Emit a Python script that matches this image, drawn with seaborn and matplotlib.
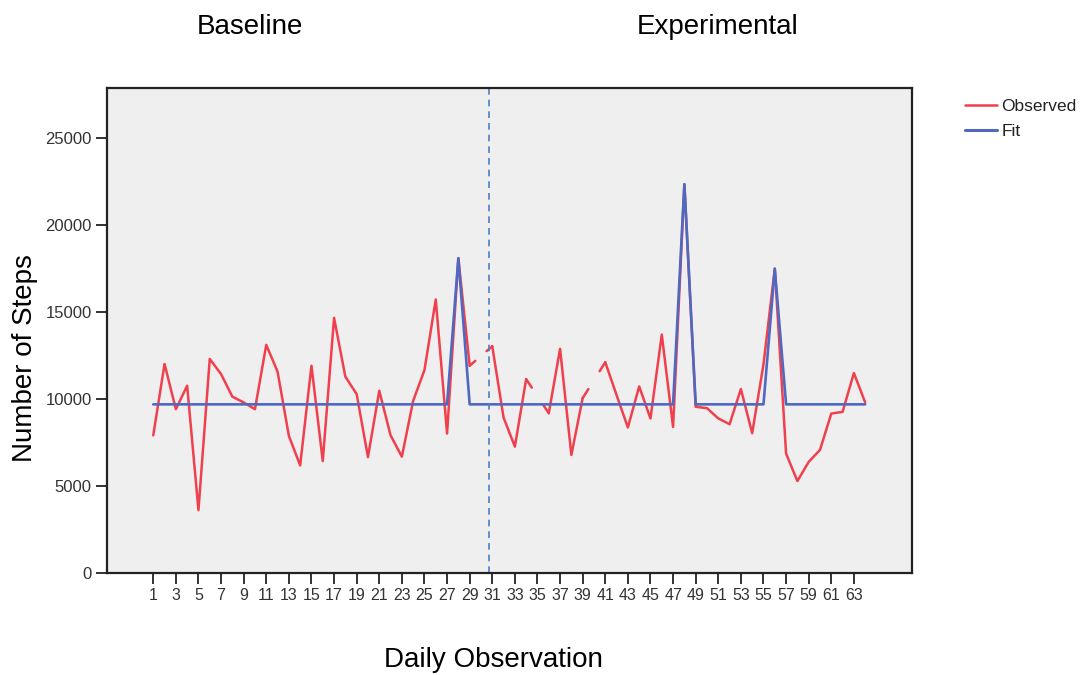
import numpy as np
import pandas as pd
import matplotlib
matplotlib.use("Agg")
import matplotlib.pyplot as plt
from matplotlib.lines import Line2D
import seaborn as sns

# Daily step counts (NaN = day not recorded)
days = list(range(1, 65))
observed = [
    7920, 12020, 9420, 10770, 3620, 12310, 11440, 10140, 9810, 9420,
    13120, 11580, 7890, 6190, 11920, 6440, 14670, 11290, 10290, 6670,
    10480, 7920, 6690, 9900, 11670, 15730, 8020, 18100, 11920, np.nan,
    13040, 8940, 7270, 11150, np.nan, 9190, 12890, 6790, 10060, np.nan,
    12120, 10230, 8370, 10730, 8890, 13710, 8400, 22350, 9560, 9480,
    8890, 8560, 10580, 8040, 12000, 17500, 6870, 5290, 6390, 7080,
    9170, 9270, 11500, 9810,
]
# Model fit: phase level plus the three outlying days
fit_level = 9700
fit_spikes = {28: 18100, 48: 22350, 56: 17500}
fit = [fit_spikes.get(d, fit_level) for d in days]

phase_change = 30.7
phase_labels = ["Baseline", "Experimental"]
xtick_labels = list(range(1, 64, 2))
ytick_values = [0, 5000, 10000, 15000, 20000, 25000]

RED = "#f0404e"
BLUE = "#5068bf"
DASH_BLUE = "#4a80c4"

sns.set_theme(style="white")
plt.rcParams["font.family"] = ["Liberation Sans", "DejaVu Sans"]

# Split the observed series into unbroken runs, plus short half-stubs
# leading into and out of each missing day.
obs = np.array(observed, dtype=float)
x = np.array(days, dtype=float)
rows = []
seg = 0
prev_nan = True
for xi, yi in zip(x, obs):
    if np.isnan(yi):
        prev_nan = True
        continue
    if prev_nan:
        seg += 1
        prev_nan = False
    rows.append((xi, yi, f"run{seg}"))
for i in np.where(np.isnan(obs))[0]:
    xl, xr = x[i - 1], x[i + 1]
    yl, yr = obs[i - 1], obs[i + 1]
    for k, (a, b) in enumerate([(xl, x[i] - 0.5), (x[i] + 0.5, xr)]):
        for xx in (a, b):
            rows.append((xx, np.interp(xx, [xl, xr], [yl, yr]), f"stub{i}_{k}"))
obs_df = pd.DataFrame(rows, columns=["day", "steps", "unit"])
fit_df = pd.DataFrame({"day": days, "steps": fit})

fig = plt.figure(figsize=(10.8, 6.75), dpi=100)
ax = fig.add_axes([0.099, 0.151, 0.745, 0.719])
ax.set_facecolor("#efefef")

sns.lineplot(data=obs_df, x="day", y="steps", units="unit", estimator=None,
             color=RED, linewidth=1.8, ax=ax, legend=False, sort=True)
sns.lineplot(data=fit_df, x="day", y="steps", color=BLUE, linewidth=1.9,
             ax=ax, legend=False)
ax.axvline(phase_change, color=DASH_BLUE, linewidth=1.2, linestyle=(0, (4, 3)))

ax.set_xlim(-3.1, 68.1)
ax.set_ylim(0, 27900)
ax.set_xticks(xtick_labels)
ax.set_xticklabels([str(v) for v in xtick_labels])
ax.set_yticks(ytick_values)
ax.set_yticklabels([str(v) for v in ytick_values])
ax.tick_params(axis="both", direction="out", length=8, width=1.3,
               color="#222222", labelsize=12, labelcolor="#333333",
               bottom=True, left=True, pad=3)
ax.tick_params(axis="x", labelsize=11.5)
for s in ax.spines.values():
    s.set_color("#222222")
    s.set_linewidth(1.6)
ax.set_xlabel("")
ax.set_ylabel("")

fig.text(25 / 1080, 1 - 358 / 675, "Number of Steps", rotation=90,
         ha="center", va="center", fontsize=20, color="black")
fig.text(493 / 1080, 1 - 660 / 675, "Daily Observation",
         ha="center", va="center", fontsize=20, color="black")
fig.text(250 / 1080, 1 - 27 / 675, phase_labels[0],
         ha="center", va="center", fontsize=20, color="black")
fig.text(718 / 1080, 1 - 27 / 675, phase_labels[1],
         ha="center", va="center", fontsize=20, color="black")

handles = [Line2D([], [], color=RED, linewidth=1.8),
           Line2D([], [], color=BLUE, linewidth=2.2)]
fig.legend(handles, ["Observed", "Fit"], loc="upper left",
           bbox_to_anchor=(0.887, 0.864), frameon=False, fontsize=12.5,
           handlelength=1.85, handletextpad=0.25, labelspacing=0.6,
           borderaxespad=0, labelcolor="#222222")

fig.savefig("out.png", dpi=100)
